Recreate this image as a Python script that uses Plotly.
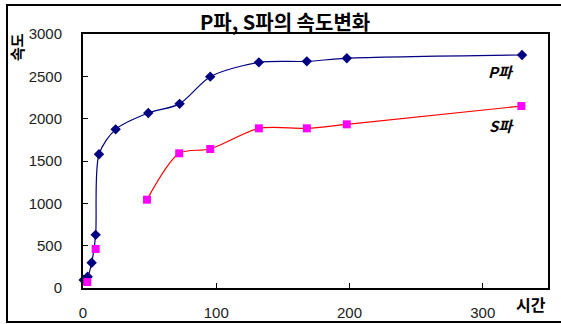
import plotly.graph_objects as go

# P wave (navy diamonds)
p_time = [0.5, 3.5, 6.5, 9.5, 12, 24.5, 49, 72.5, 95.5, 132, 168, 198, 329.5]
p_speed = [95, 133, 299, 628, 1579, 1874, 2067, 2175, 2496, 2665, 2677, 2713, 2752]

# S wave early points (markers only) and main curve
s_time_early = [3.2, 9.5]
s_speed_early = [70, 461]
s_time = [48, 72.2, 95.5, 132, 168, 198, 329]
s_speed = [1043, 1591, 1642, 1886, 1886, 1933, 2149]

x_ticks = [0, 100, 200, 300]
y_ticks = [0, 500, 1000, 1500, 2000, 2500, 3000]

W, H = 561, 324
L, R, T, B = 83, 548, 34, 288

fig = go.Figure()
fig.add_trace(go.Scatter(
    x=p_time, y=p_speed, mode="lines+markers", name="P파",
    line=dict(color="#000080", width=1.2, shape="spline", smoothing=0.8),
    marker=dict(symbol="diamond", size=8, color="#000080"),
    cliponaxis=False,
))
fig.add_trace(go.Scatter(
    x=s_time, y=s_speed, mode="lines+markers", name="S파",
    line=dict(color="#FF0000", width=1.2, shape="spline", smoothing=0.8),
    marker=dict(symbol="square", size=8, color="#FF00FF"),
    cliponaxis=False,
))
fig.add_trace(go.Scatter(
    x=s_time_early, y=s_speed_early, mode="markers", name="S파 초기",
    marker=dict(symbol="square", size=8, color="#FF00FF"),
    cliponaxis=False,
))

def px_x(px):
    return (px - L) / (R - L)

def px_y(py):
    return (B - py) / (B - T)

tick_font = dict(family="Liberation Sans, Arial, sans-serif", size=15, color="#222222")
kr = "Noto Sans CJK KR, sans-serif"

def label(text, cx, cy, size, angle=0):
    return dict(text=text, xref="paper", yref="paper", x=px_x(cx), y=px_y(cy),
                xanchor="center", yanchor="middle", showarrow=False,
                textangle=angle, font=dict(family=kr, size=size, color="black"))

fig.update_layout(
    width=W, height=H,
    margin=dict(l=L, r=W - R, t=T, b=H - B, autoexpand=False),
    paper_bgcolor="white", plot_bgcolor="white",
    showlegend=False,
    xaxis=dict(range=[0, 349], tickvals=x_ticks, ticks="inside", ticklen=5,
               tickwidth=1, tickcolor="black", showgrid=False, zeroline=False,
               showline=True, linecolor="black", linewidth=2, mirror=True,
               tickfont=tick_font, ticklabelstandoff=10, automargin=False),
    yaxis=dict(range=[0, 3000], tickvals=y_ticks, ticks="inside", ticklen=5,
               tickwidth=1, tickcolor="black", showgrid=False, zeroline=False,
               showline=True, linecolor="black", linewidth=2, mirror=True,
               tickfont=tick_font, ticklabelstandoff=16, automargin=False),
    shapes=[dict(type="rect", xref="paper", yref="paper",
                 x0=px_x(7), x1=px_x(566), y0=px_y(322), y1=px_y(5),
                 line=dict(color="black", width=2), layer="below")],
    annotations=[
        label("<b>P파, S파의 속도변화</b>", 285, 21, 20),
        label("<b>속도</b>", 16, 47, 15, angle=-90),
        label("<b>시간</b>", 531, 304, 16),
        label("<b><i>P파</i></b>", 501, 72, 15),
        label("<b><i>S파</i></b>", 501, 125, 15),
    ],
)

fig.write_html("out.html",
               config={"displayModeBar": False},
               post_script="document.body.style.margin='0px';document.body.style.overflow='hidden';")
